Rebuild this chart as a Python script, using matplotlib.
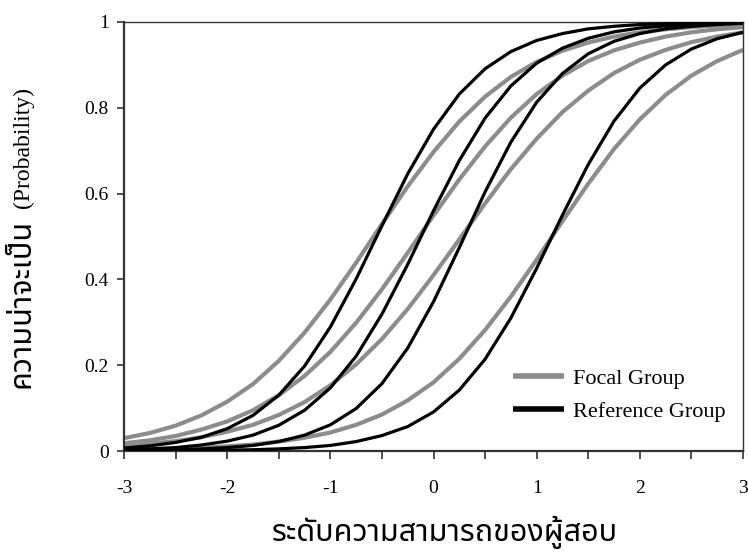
import matplotlib
matplotlib.use("Agg")
import matplotlib.pyplot as plt
import numpy as np

# ability levels (theta)
theta = np.arange(-3, 3.01, 0.25)

# item characteristic curves
focal_1 = [0.030, 0.042, 0.059, 0.083, 0.115, 0.156, 0.210, 0.276, 0.353, 0.439, 0.529, 0.617, 0.697,
           0.768, 0.826, 0.872, 0.907, 0.933, 0.952, 0.966, 0.976, 0.983, 0.988, 0.992, 0.994]
focal_2 = [0.018, 0.025, 0.035, 0.050, 0.069, 0.095, 0.130, 0.175, 0.231, 0.299, 0.377, 0.462, 0.549,
           0.633, 0.710, 0.777, 0.832, 0.875, 0.909, 0.934, 0.952, 0.966, 0.976, 0.983, 0.988]
focal_3 = [0.012, 0.017, 0.023, 0.032, 0.045, 0.061, 0.084, 0.114, 0.153, 0.202, 0.261, 0.331, 0.410,
           0.493, 0.577, 0.657, 0.728, 0.790, 0.840, 0.881, 0.912, 0.935, 0.953, 0.966, 0.976]
focal_4 = [0.003, 0.004, 0.005, 0.007, 0.011, 0.015, 0.022, 0.031, 0.043, 0.061, 0.085, 0.118, 0.160,
           0.215, 0.282, 0.360, 0.446, 0.536, 0.623, 0.704, 0.773, 0.830, 0.875, 0.909, 0.935]

ref_1 = [0.007, 0.012, 0.020, 0.032, 0.052, 0.083, 0.130, 0.198, 0.289, 0.401, 0.525, 0.646, 0.750,
         0.832, 0.891, 0.931, 0.957, 0.973, 0.984, 0.990, 0.994, 0.996, 0.998, 0.999, 0.999]
ref_2 = [0.003, 0.005, 0.008, 0.014, 0.023, 0.037, 0.060, 0.095, 0.147, 0.221, 0.319, 0.435, 0.560,
         0.677, 0.776, 0.851, 0.904, 0.939, 0.962, 0.977, 0.986, 0.991, 0.995, 0.997, 0.998]
ref_3 = [0.001, 0.002, 0.003, 0.005, 0.008, 0.013, 0.022, 0.037, 0.061, 0.099, 0.157, 0.240, 0.348,
         0.474, 0.604, 0.720, 0.813, 0.880, 0.926, 0.955, 0.973, 0.984, 0.990, 0.994, 0.997]
ref_4 = [0.000, 0.000, 0.001, 0.001, 0.002, 0.003, 0.005, 0.008, 0.013, 0.022, 0.036, 0.057, 0.091,
         0.142, 0.214, 0.310, 0.426, 0.550, 0.668, 0.769, 0.846, 0.900, 0.937, 0.961, 0.976]

focal_curves = [focal_1, focal_2, focal_3, focal_4]
ref_curves = [ref_1, ref_2, ref_3, ref_4]

x_ticks = [-3, -2, -1, 0, 1, 2, 3]
y_ticks = [0, 0.2, 0.4, 0.6, 0.8, 1]
y_tick_labels = ["0", "0.2", "0.4", "0.6", "0.8", "1"]

serif = ["Liberation Serif", "DejaVu Serif"]
thai = ["Noto Sans Thai", "DejaVu Sans"]

fig = plt.figure(figsize=(7.48, 5.54), dpi=100)
ax = fig.add_axes([0.1658, 0.1859, 0.8275, 0.7744])

gray = "#8c8c8c"
for i, ys in enumerate(focal_curves):
    ax.plot(theta, ys, color=gray, lw=3.0, solid_capstyle="butt",
            label="Focal Group" if i == 0 else None, zorder=2)
for i, ys in enumerate(ref_curves):
    ax.plot(theta, ys, color="black", lw=2.3, solid_capstyle="butt",
            label="Reference Group" if i == 0 else None, zorder=3)

ax.set_xlim(-3, 3)
ax.set_ylim(0, 1)
ax.set_xticks(x_ticks)
ax.set_xticklabels([str(v) for v in x_ticks], family=serif, fontsize=14)
ax.set_xticks(np.arange(-2.5, 3, 1.0), minor=True)
ax.set_yticks(y_ticks)
ax.set_yticklabels(y_tick_labels, family=serif, fontsize=14)

ax.tick_params(axis="x", which="both", direction="out", length=6, width=1.2,
               color="#333333", pad=15)
ax.tick_params(axis="y", direction="out", length=5, width=1.2, color="#333333", pad=6)

for side in ["left", "bottom"]:
    ax.spines[side].set_linewidth(1.6)
    ax.spines[side].set_color("#333333")
for side in ["top", "right"]:
    ax.spines[side].set_linewidth(1.0)
    ax.spines[side].set_color("#333333")

# axis titles: Thai part in a loopless Thai face, English part in serif
fig.text(22 / 748, 1 - 303 / 554, "ความน่าจะเป็น", family=thai, weight="light",
         fontsize=22, rotation=90, ha="center", va="center")
fig.text(23 / 748, 1 - 148 / 554, "(Probability)", family=serif, fontsize=17,
         rotation=90, ha="center", va="center")
fig.text(445 / 748, 1 - 532 / 554, "ระดับความสามารถของผู้สอบ", family=thai, weight="light",
         fontsize=22, ha="center", va="center")

leg = ax.legend(loc="upper left", bbox_to_anchor=(0.628, 0.193), frameon=False,
                prop={"family": serif, "size": 16}, handlelength=2.3,
                handletextpad=0.4, labelspacing=0.55, borderaxespad=0, borderpad=0)
for line in leg.get_lines():
    line.set_linewidth(4)

fig.savefig("out.png", dpi=100)
